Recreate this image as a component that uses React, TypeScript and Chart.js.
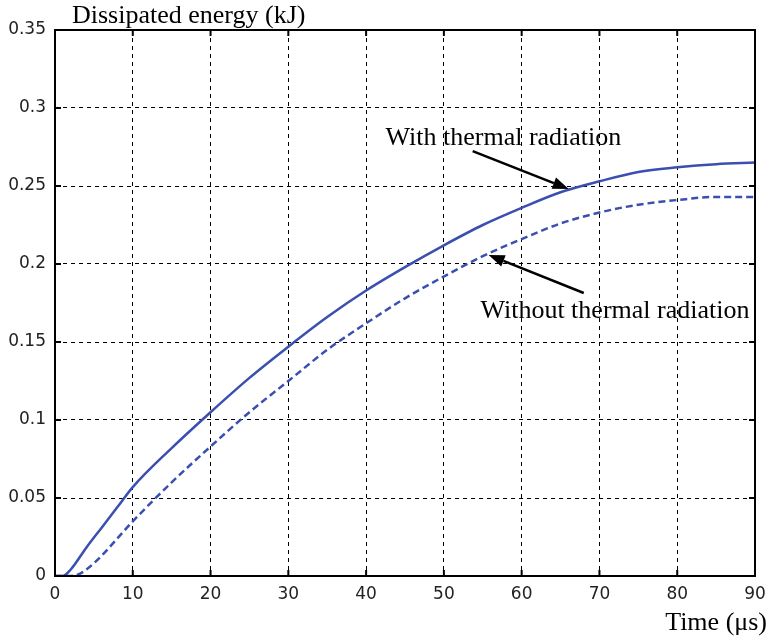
import React, { useEffect, useRef } from "react";
import { Chart, registerables } from "chart.js";
Chart.register(...registerables);

const timeWith = [0, 1, 2, 4, 6, 8, 10, 15, 20, 25, 30, 35, 40, 45, 50, 55, 60, 65, 70, 75, 80, 85, 90];
const energyWith = [0, 0, 0.004, 0.018, 0.031, 0.044, 0.057, 0.082, 0.105, 0.127, 0.147, 0.166, 0.183, 0.198, 0.212, 0.225, 0.236, 0.246, 0.253, 0.259, 0.262, 0.264, 0.265];
const timeWithout = [0, 2, 3, 4, 6, 8, 10, 15, 20, 25, 30, 35, 40, 45, 50, 55, 60, 65, 70, 75, 80, 85, 90];
const energyWithout = [0, 0, 0.001, 0.004, 0.013, 0.024, 0.035, 0.060, 0.083, 0.105, 0.125, 0.145, 0.162, 0.178, 0.192, 0.205, 0.216, 0.226, 0.233, 0.238, 0.241, 0.243, 0.243];

const xTicks = [0, 10, 20, 30, 40, 50, 60, 70, 80, 90];
const yTicks = [0, 0.05, 0.1, 0.15, 0.2, 0.25, 0.3, 0.35];

const yTitle = "Dissipated energy (kJ)";
const xTitle = "Time (μs)";

// annotation: label, text anchor (x, baseline y), arrow start (x,y), arrow tip (x,y) in data units
const annLabels = ["With thermal radiation", "Without thermal radiation"];
const annText = [[42.5, 0.2763], [54.7, 0.1654]];
const annFrom = [[53.7, 0.2724], [67.98, 0.1814]];
const annTo = [[66.05, 0.2481], [55.75, 0.2058]];

const BLUE = "#3a4fb0";

export default function App() {
  const ref = useRef<HTMLCanvasElement>(null);
  useEffect(() => {
    const frame = {
      id: "frame",
      afterDraw(chart: any) {
        const { ctx, chartArea: a, scales } = chart;
        const xs = scales.x, ys = scales.y;
        ctx.save();
        ctx.strokeStyle = "#000";
        ctx.lineWidth = 2;
        ctx.strokeRect(a.left, a.top, a.right - a.left, a.bottom - a.top);
        const tl = 6;
        xTicks.forEach((t) => {
          const px = xs.getPixelForValue(t);
          ctx.beginPath();
          ctx.moveTo(px, a.bottom); ctx.lineTo(px, a.bottom - tl);
          ctx.moveTo(px, a.top); ctx.lineTo(px, a.top + tl);
          ctx.stroke();
        });
        yTicks.forEach((t) => {
          const py = ys.getPixelForValue(t);
          ctx.beginPath();
          ctx.moveTo(a.left, py); ctx.lineTo(a.left + tl, py);
          ctx.moveTo(a.right, py); ctx.lineTo(a.right - tl, py);
          ctx.stroke();
        });
        ctx.fillStyle = "#000";
        ctx.font = '26px "Liberation Serif"';
        ctx.textBaseline = "alphabetic";
        ctx.textAlign = "left";
        ctx.fillText(yTitle, 72, 23);
        ctx.textAlign = "right";
        ctx.fillText(xTitle, 767, 630);
        ctx.textAlign = "left";
        annLabels.forEach((lab, i) => {
          ctx.fillText(lab, xs.getPixelForValue(annText[i][0]), ys.getPixelForValue(annText[i][1]));
          const x1 = xs.getPixelForValue(annFrom[i][0]), y1 = ys.getPixelForValue(annFrom[i][1]);
          const x2 = xs.getPixelForValue(annTo[i][0]), y2 = ys.getPixelForValue(annTo[i][1]);
          const ang = Math.atan2(y2 - y1, x2 - x1);
          const hl = 16, hw = 6;
          const bx = x2 - hl * Math.cos(ang), by = y2 - hl * Math.sin(ang);
          ctx.lineWidth = 2.5;
          ctx.beginPath();
          ctx.moveTo(x1, y1); ctx.lineTo(bx, by);
          ctx.stroke();
          ctx.beginPath();
          ctx.moveTo(x2, y2);
          ctx.lineTo(bx + hw * Math.sin(ang), by - hw * Math.cos(ang));
          ctx.lineTo(bx - hw * Math.sin(ang), by + hw * Math.cos(ang));
          ctx.closePath();
          ctx.fill();
        });
        ctx.restore();
      },
    };
    const chart = new Chart(ref.current!, {
      type: "line",
      data: {
        datasets: [
          {
            label: "With thermal radiation",
            data: timeWith.map((t, i) => ({ x: t, y: energyWith[i] })),
            borderColor: BLUE,
            borderWidth: 2.5,
            pointRadius: 0,
            cubicInterpolationMode: "monotone",
            fill: false,
          },
          {
            label: "Without thermal radiation",
            data: timeWithout.map((t, i) => ({ x: t, y: energyWithout[i] })),
            borderColor: BLUE,
            borderWidth: 2.5,
            borderDash: [7, 4],
            pointRadius: 0,
            cubicInterpolationMode: "monotone",
            fill: false,
          },
        ],
      },
      options: {
        animation: false,
        responsive: false,
        layout: { padding: { top: 30, right: 14, left: 0, bottom: 0 } },
        plugins: { legend: { display: false }, tooltip: { enabled: false } },
        scales: {
          x: {
            type: "linear",
            min: 0,
            max: 90,
            afterBuildTicks: (s: any) => { s.ticks = xTicks.map((v) => ({ value: v })); },
            afterFit: (s: any) => { s.height = 63; s.paddingRight = 0; },
            grid: { color: "#000", lineWidth: 1, drawTicks: false },
            border: { display: false, dash: [4, 4] },
            ticks: { color: "#222", font: { family: "DejaVu Sans", size: 17 }, padding: 8 },
          },
          y: {
            type: "linear",
            min: 0,
            max: 0.35,
            afterBuildTicks: (s: any) => { s.ticks = yTicks.map((v) => ({ value: v })); },
            afterFit: (s: any) => { s.width = 55; },
            grid: { color: "#000", lineWidth: 1, drawTicks: false },
            border: { display: false, dash: [4, 4] },
            ticks: {
              color: "#222",
              font: { family: "DejaVu Sans", size: 17 },
              padding: 9,
              callback: (v: any) => String(Math.round(Number(v) * 100) / 100),
            },
          },
        },
      },
      plugins: [frame],
    });
    return () => chart.destroy();
  }, []);
  return (
    <div style={{ position: "fixed", left: 0, top: 0, width: 769, height: 639, background: "#fff" }}>
      <canvas ref={ref} width={769} height={639} />
    </div>
  );
}
